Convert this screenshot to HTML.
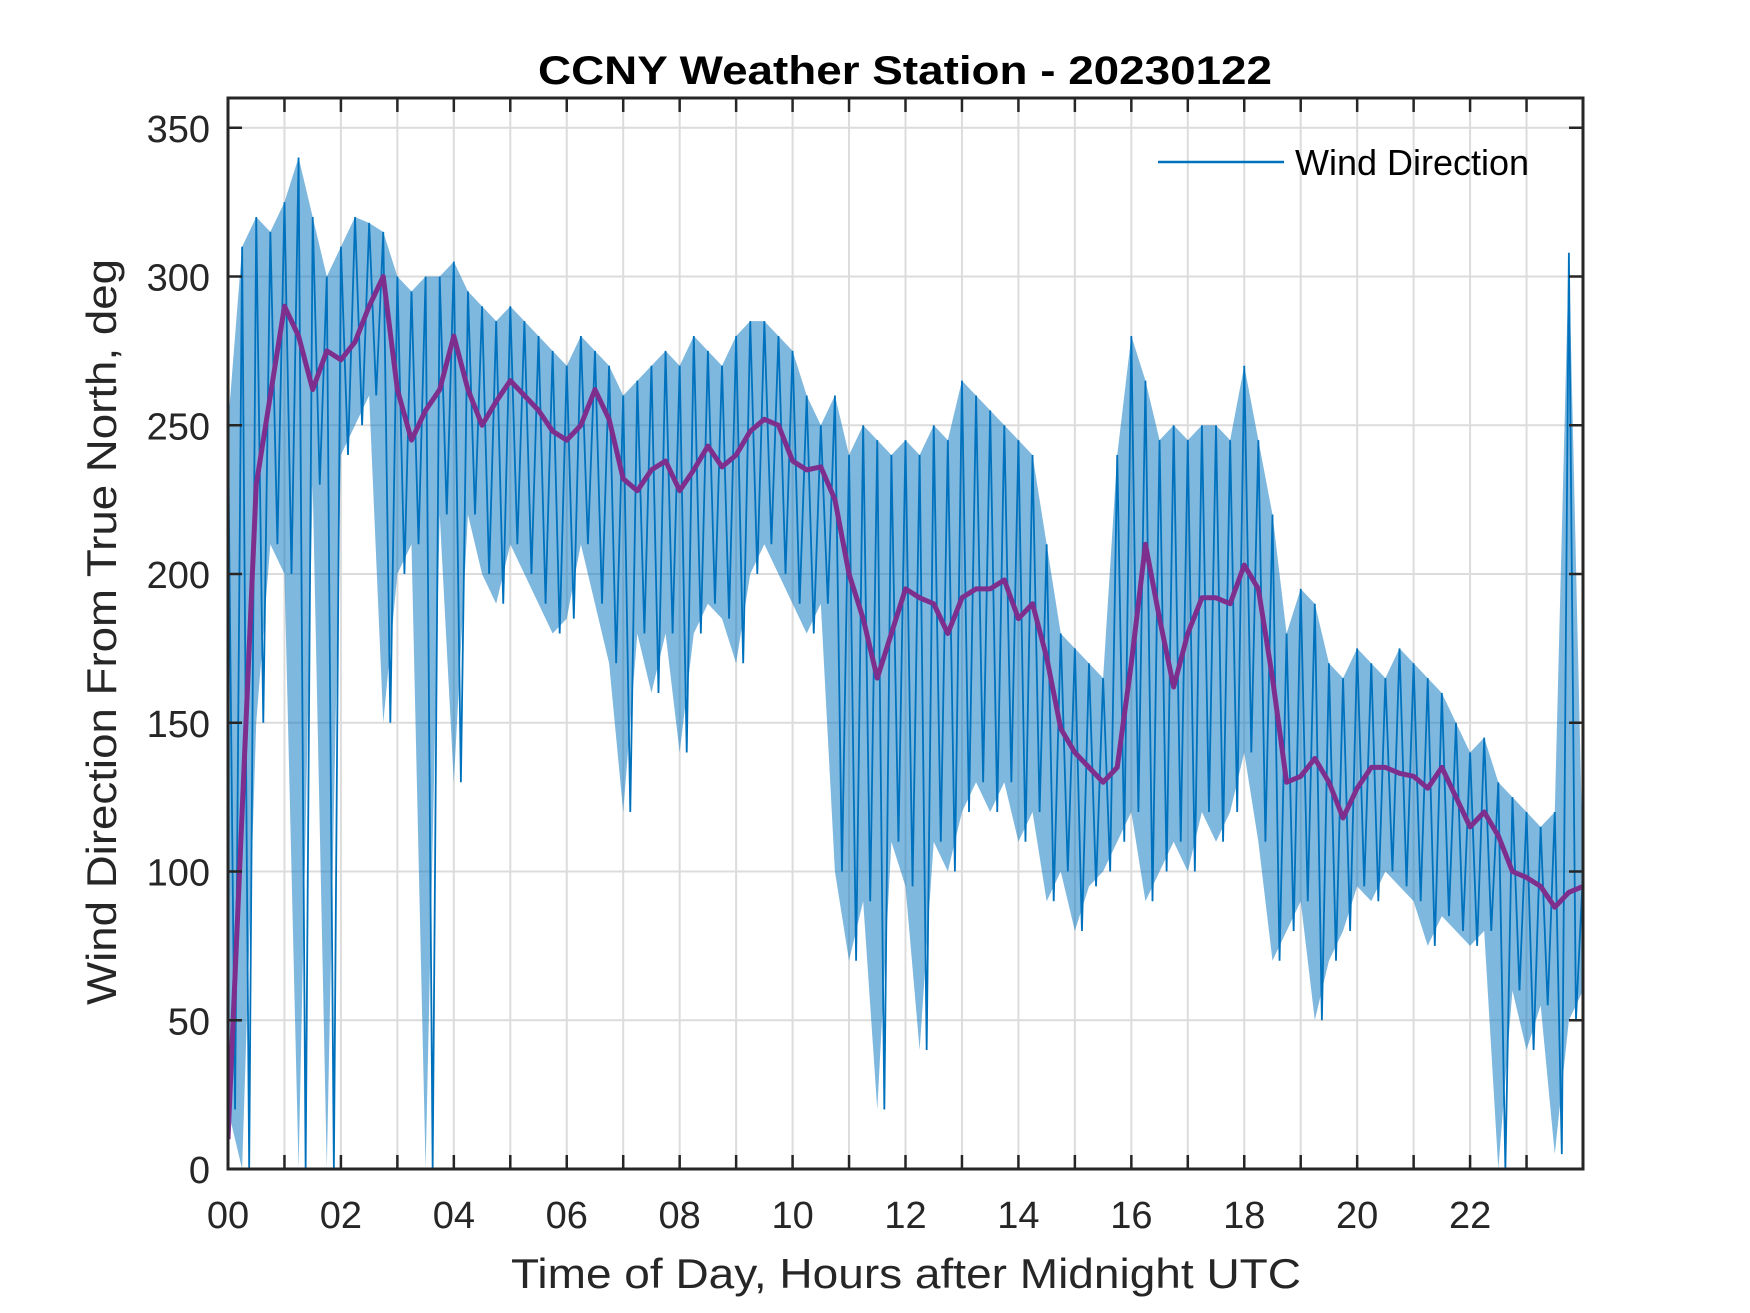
<!DOCTYPE html>
<html><head><meta charset="utf-8"><style>
html,body{margin:0;padding:0;background:#fff}
svg{display:block}
text{font-family:"Liberation Sans",Arial,sans-serif;fill:#262626}
</style></head><body>
<svg id="chart" width="1750" height="1313" viewBox="0 0 1750 1313" xmlns="http://www.w3.org/2000/svg">
<defs><clipPath id="pc"><rect x="228" y="98" width="1355" height="1071"/></clipPath></defs>
<rect x="228" y="98" width="1355" height="1071" fill="#fff"/>
<g id="grid"></g>
<g id="series" clip-path="url(#pc)"></g>
<g id="axes"></g>
<text x="905" y="84" text-anchor="middle" font-size="40" font-weight="bold" style="fill:#000" textLength="734" lengthAdjust="spacingAndGlyphs">CCNY Weather Station - 20230122</text>
<text x="906" y="1288" text-anchor="middle" font-size="42" textLength="790" lengthAdjust="spacingAndGlyphs">Time of Day, Hours after Midnight UTC</text>
<text transform="translate(116,632) rotate(-90)" text-anchor="middle" font-size="42" textLength="746" lengthAdjust="spacingAndGlyphs">Wind Direction From True North, deg</text>
<g>
<line x1="1158" y1="162" x2="1284" y2="162" stroke="#0072bd" stroke-width="2.5"/>
<text x="1295" y="175" font-size="36" style="fill:#000">Wind Direction</text>
</g>
</svg>
<script>
const xTicks=[0,2,4,6,8,10,12,14,16,18,20,22];
const xTickLabels=["00","02","04","06","08","10","12","14","16","18","20","22"];
const yTicks=[0,50,100,150,200,250,300,350];
const meanHours=[0,0.25,0.5,0.75,1,1.25,1.5,1.75,2,2.25,2.5,2.75,3,3.25,3.5,3.75,4,4.25,4.5,4.75,5,5.25,5.5,5.75,6,6.25,6.5,6.75,7,7.25,7.5,7.75,8,8.25,8.5,8.75,9,9.25,9.5,9.75,10,10.25,10.5,10.75,11,11.25,11.5,11.75,12,12.25,12.5,12.75,13,13.25,13.5,13.75,14,14.25,14.5,14.75,15,15.25,15.5,15.75,16,16.25,16.5,16.75,17,17.25,17.5,17.75,18,18.25,18.5,18.75,19,19.25,19.5,19.75,20,20.25,20.5,20.75,21,21.25,21.5,21.75,22,22.25,22.5,22.75,23,23.25,23.5,23.75,24];
const meanDir=[10,120,230,260,290,280,262,275,272,278,290,300,262,245,255,262,280,262,250,258,265,260,255,248,245,250,262,252,232,228,235,238,228,235,243,236,240,248,252,250,238,235,236,225,200,185,165,180,195,192,190,180,192,195,195,198,185,190,172,148,140,135,130,135,170,210,185,162,180,192,192,190,203,195,165,130,132,138,130,118,128,135,135,133,132,128,135,125,115,120,112,100,98,95,88,93,95];
const rawHigh=[250,310,320,315,325,340,320,300,310,320,318,315,300,295,300,300,305,295,290,285,290,285,280,275,270,280,275,270,260,265,270,275,270,280,275,270,280,285,285,280,275,260,250,260,240,250,245,240,245,240,250,245,265,260,255,250,245,240,210,180,175,170,165,240,280,265,245,250,245,250,250,245,270,245,220,180,195,190,170,165,175,170,165,175,170,165,160,150,140,145,130,125,120,115,120,308,100];
const rawLow=[20,0,150,210,200,0,230,0,240,250,260,150,200,210,0,220,130,220,200,190,210,200,190,180,185,210,190,170,120,180,160,180,140,180,190,185,170,200,210,200,190,180,190,100,70,90,20,110,95,40,110,100,120,130,120,130,110,120,90,100,80,95,100,110,120,90,100,110,100,120,110,120,140,110,70,80,90,50,70,80,95,90,100,95,90,75,85,80,75,80,0,60,40,55,5,50,60];
const X0=228,X1=1583,Y0=1169,Y1=98;
const xs=h=>X0+(h/24)*(X1-X0);
const ys=v=>Y0-(v/360)*(Y0-Y1);
const NS="http://www.w3.org/2000/svg";
function mk(tag,attrs,parent){const e=document.createElementNS(NS,tag);for(const k in attrs)e.setAttribute(k,attrs[k]);parent.appendChild(e);return e;}
const grid=document.getElementById('grid'),axes=document.getElementById('axes'),series=document.getElementById('series');
for(let h=1;h<24;h++){const l=mk('line',{x1:xs(h),x2:xs(h),y1:Y1,y2:Y0,stroke:'#dcdcdc','stroke-width':2},grid);

}
yTicks.forEach(v=>{if(v>0){const l=mk('line',{x1:X0,x2:X1,y1:ys(v),y2:ys(v),stroke:'#dcdcdc','stroke-width':2},grid);

}});
let up='',dn='';
meanHours.forEach((h,i)=>{up+=`${xs(h)},${ys(rawHigh[i])} `;});
for(let i=meanHours.length-1;i>=0;i--)dn+=`${xs(meanHours[i])},${ys(rawLow[i])} `;
const band=mk('polygon',{points:up+dn,fill:'#0072bd','fill-opacity':0.5,stroke:'none'},series);


let zz='';
meanHours.forEach((h,i)=>{zz+=`${xs(h)},${ys(rawHigh[i])} ${xs(h+0.125)},${ys(rawLow[i])} `;});
const raw=mk('polyline',{points:zz,fill:'none',stroke:'#0072bd','stroke-width':1.8},series);


const mp=meanHours.map((h,i)=>`${xs(h)},${ys(meanDir[i])}`).join(' ');
const mean=mk('polyline',{points:mp,fill:'none',stroke:'#7e2f8e','stroke-width':5,'stroke-linejoin':'round'},series);


const box=mk('rect',{x:X0,y:Y1,width:X1-X0,height:Y0-Y1,fill:'none',stroke:'#262626','stroke-width':3},axes);


for(let h=1;h<24;h++){
 const t1=mk('line',{x1:xs(h),x2:xs(h),y1:Y0,y2:Y0-14,stroke:'#262626','stroke-width':2.5},axes);
 
 
 const t2=mk('line',{x1:xs(h),x2:xs(h),y1:Y1,y2:Y1+14,stroke:'#262626','stroke-width':2.5},axes);
 
 
}
xTicks.forEach((h,i)=>{const t=mk('text',{x:xs(h),y:1228,'text-anchor':'middle','font-size':38},axes);t.textContent=xTickLabels[i];

});
yTicks.forEach(v=>{
 const a=mk('line',{x1:X0,x2:X0+14,y1:ys(v),y2:ys(v),stroke:'#262626','stroke-width':2.5},axes);
 
 
 const b=mk('line',{x1:X1,x2:X1-14,y1:ys(v),y2:ys(v),stroke:'#262626','stroke-width':2.5},axes);
 
 
 const t=mk('text',{x:210,y:ys(v)+14,'text-anchor':'end','font-size':38},axes);t.textContent=v;
 
 
});
</script>
</body></html>
